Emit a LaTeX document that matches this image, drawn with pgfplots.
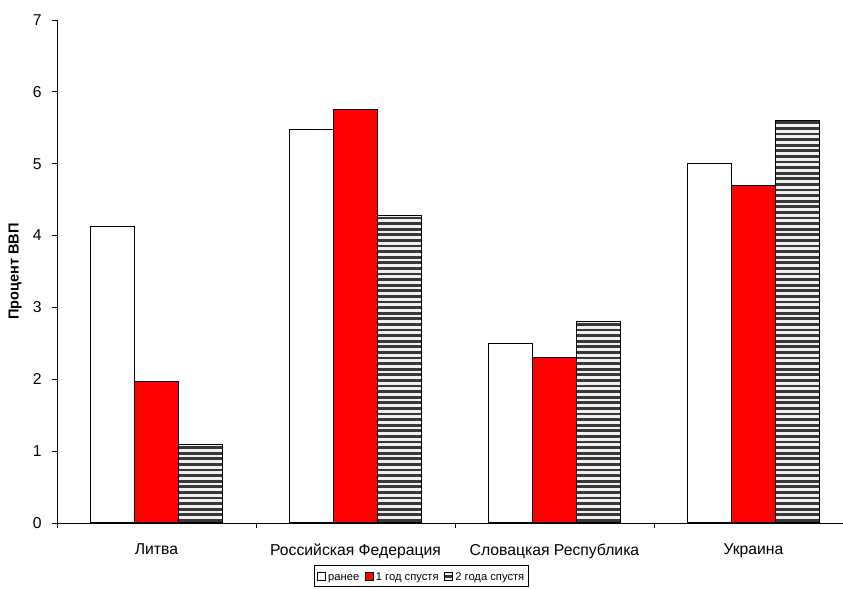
\documentclass[border=0pt]{standalone}
\usepackage{pgfplots}
\pgfplotsset{compat=1.18}
\usepackage{fontspec}
\setmainfont{Liberation Sans}
\usetikzlibrary{patterns}
\pgfdeclarepatternformonly{hstripes}{\pgfqpoint{-1pt}{-0.5pt}}{\pgfqpoint{21pt}{4.7pt}}{\pgfqpoint{20pt}{4.2pt}}{%
  \pgfpathrectangle{\pgfqpoint{-0.6pt}{0pt}}{\pgfqpoint{21.2pt}{2.1pt}}\pgfusepath{fill}}
\definecolor{xlred}{RGB}{255,0,0}
\begin{document}
\begin{tikzpicture}
\begin{axis}[
  scale only axis,
  width=589.5pt, height=377.25pt,
  at={(0,0)}, anchor=south west,
  ybar=0pt,
  bar width=0.221,
  xmin=-0.5, xmax=3.45,
  ymin=0, ymax=7,
  ytick={0,1,...,7},
  xtick={0,1,2,3},
  xticklabels={Литва, Российская Федерация, Словацкая Республика, Украина},
  major tick length=4pt,
  xtick style={draw=none},
  extra x ticks={-0.5,0.5,1.5,2.5},
  extra x tick labels={},
  extra x tick style={xtick style={draw=black, line width=0.6pt}},
  axis lines*=left,
  axis line style={black, line width=0.6pt, -},
  tick align=outside,
  ytick style={draw=black, line width=0.6pt},
  /pgf/number format/assume math mode=true,
  tick label style={font=\fontsize{11.8}{14}\selectfont},
  yticklabel style={xshift=-4pt},
  xticklabel style={yshift=-8pt},
  ylabel={Процент ВВП},
  ylabel style={font=\fontsize{10.9}{13}\selectfont\bfseries, at={(axis description cs:-0.0534,0.5)}, anchor=center},
  legend columns=3,
  legend style={at={(axis description cs:0.4638,-0.1054)}, anchor=center, draw=black, line width=0.5pt,
    font=\fontsize{8.4}{10}\selectfont, inner xsep=1.5pt, inner ysep=1pt,
    nodes={text height=1.6ex, text depth=0.45ex, inner sep=1.5pt},
    /tikz/every odd column/.append style={column sep=0.5pt},
    /tikz/every even column/.append style={column sep=2.5pt}},
  legend image code/.code={\draw[#1, line width=0.5pt] (0pt,-3pt) rectangle (6pt,3pt);},
  clip=false,
]
\addplot[draw=black, fill=white, line width=0.75pt] coordinates {(0,4.13) (1,5.47) (2,2.5) (3,5.0)};
\addplot[draw=black, fill=xlred, line width=0.75pt] coordinates {(0,1.97) (1,5.75) (2,2.3) (3,4.7)};
\addplot[draw=black, fill=gray!12, line width=0.75pt, postaction={pattern=hstripes, pattern color=black!78}] coordinates {(0,1.09) (1,4.28) (2,2.8) (3,5.6)};
\legend{ранее, 1 год спустя, 2 года спустя}
\end{axis}
\pgfresetboundingbox
\path[use as bounding box] (-42.75pt,-49.5pt) rectangle (589.5pt,392.25pt);
\end{tikzpicture}
\end{document}
